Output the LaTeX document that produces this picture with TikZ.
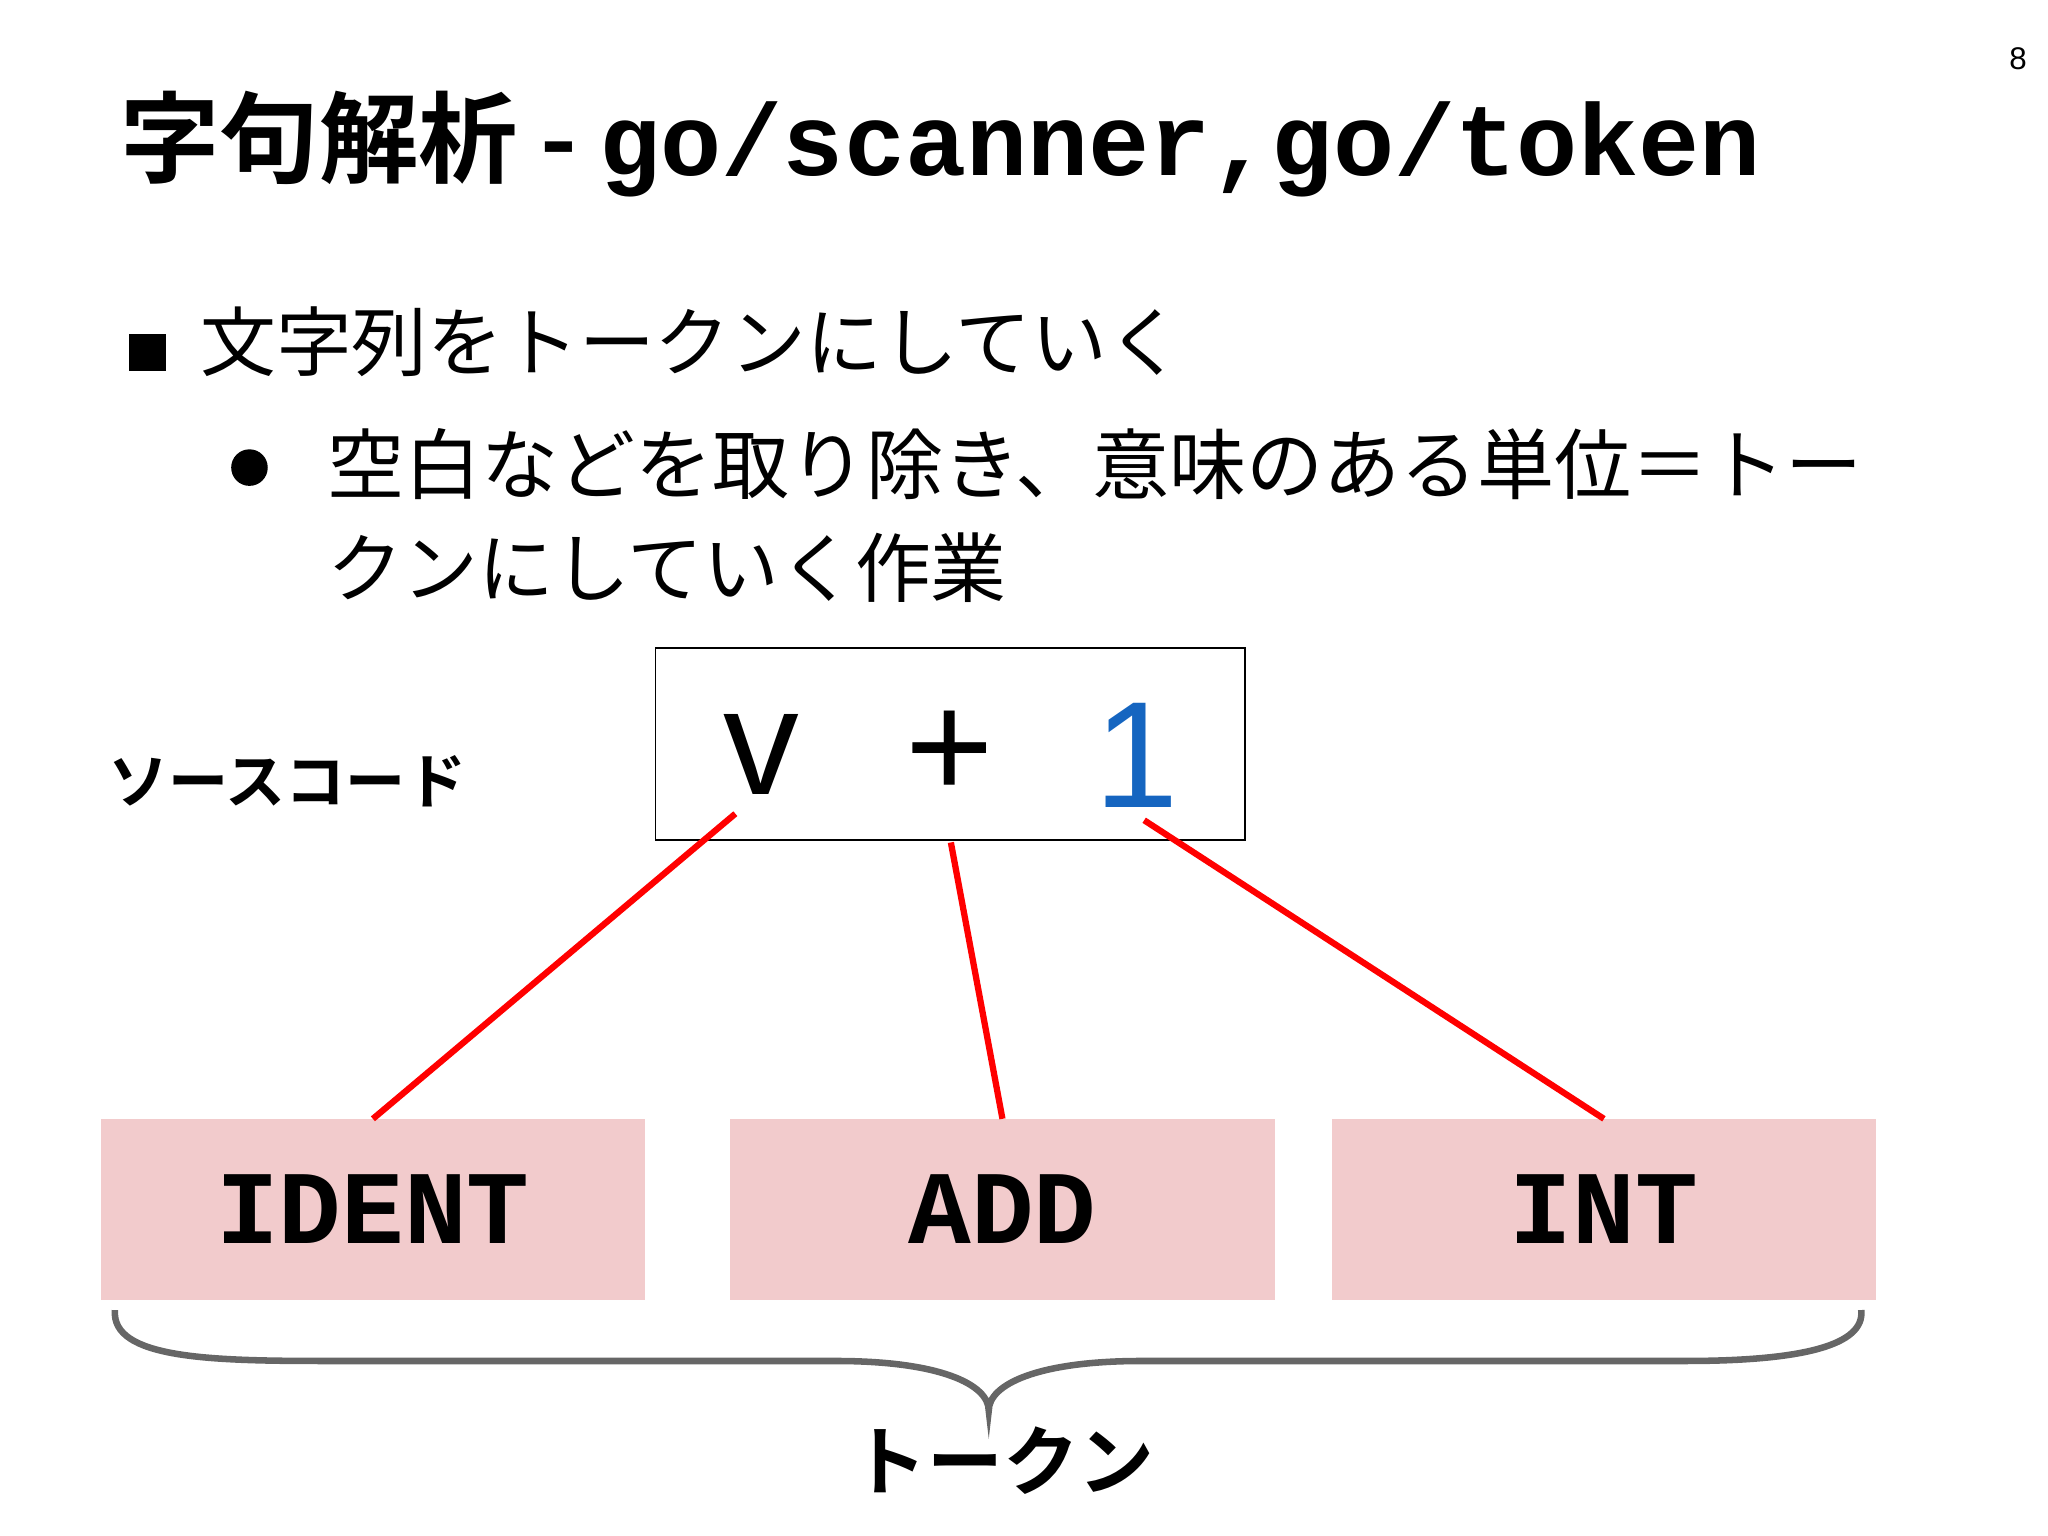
\documentclass[tikz,border=0pt]{standalone}
\usepackage{fontspec}
\newfontfamily\jp{Noto Sans CJK JP}
\newfontfamily\jpb{Noto Sans CJK JP Bold}
\newfontfamily\cour{Liberation Mono}
\newfontfamily\sans{Liberation Sans}
\begin{document}
\begin{tikzpicture}[x=0.5pt,y=-0.5pt,
  tok/.style={fill=pink1,minimum width=208.5pt,minimum height=69pt,inner sep=0pt,font=\cour\bfseries\fontsize{40}{40}\selectfont},
  link/.style={red,line width=2.4pt}]
\definecolor{pink1}{HTML}{F2CBCC}
\useasboundingbox (0,0) rectangle (1568,1176);
\node (pg) at (1545,45) {\sans\fontsize{12}{12}\selectfont 8};
\node[anchor=west,inner sep=0pt] (title) at (92,110) {\jpb\fontsize{38}{38}\selectfont 字句解析 - {\cour\bfseries\fontsize{39}{39}\selectfont go/scanner,go/token}};
\node[fill=black,minimum size=14pt,inner sep=0pt] (b1) at (113,270) {};
\node[anchor=west,inner sep=0pt] (t1) at (153,262) {\jp\fontsize{29}{29}\selectfont 文字列をトークンにしていく};
\node[circle,fill=black,minimum size=14pt,inner sep=0pt] (b2) at (191,358) {};
\node[anchor=west,inner sep=0pt] (t2) at (250,355) {\jp\fontsize{29.5}{29.5}\selectfont 空白などを取り除き、意味のある単位＝トー};
\node[anchor=west,inner sep=0pt] (t3) at (250,435) {\jp\fontsize{29}{29}\selectfont クンにしていく作業};
\node[draw,line width=0.6pt,minimum width=225.5pt,minimum height=73.5pt,inner sep=0pt] (src) at (727.5,569.5) {};
\node (v) at (583,578) {\sans\fontsize{58}{58}\selectfont v};
\node (plus) at (727,578) {\sans\fontsize{58}{58}\selectfont +};
\node (one) at (870,578) {\sans\fontsize{58}{58}\selectfont\color[HTML]{1565C0}1};
\node (sc) at (220,598) {\jpb\fontsize{23}{23}\selectfont ソースコード};
\node[tok] (id) at (285.5,926) {IDENT};
\node[tok] (add) at (767.5,926) {ADD};
\node[tok] (int) at (1228,926) {INT};
\coordinate (va) at (563,623);
\coordinate (pa) at (728,645);
\coordinate (oa) at (876,628);
\draw[link] (va) -- (id.north);
\draw[link] (pa) -- (add.north);
\draw[link] (oa) -- (int.north);
\draw[gray!80!black,line width=2.5pt] (88,1003) .. controls (85,1040) and (160,1042) .. (250,1042) -- (640,1042) .. controls (720,1042) and (757,1060) .. (757,1080) .. controls (757,1060) and (794,1042) .. (874,1042) -- (1290,1042) .. controls (1380,1042) and (1428,1030) .. (1425,1003);
\node (tk) at (768,1118) {\jpb\fontsize{29}{29}\selectfont トークン};
\end{tikzpicture}
\end{document}
